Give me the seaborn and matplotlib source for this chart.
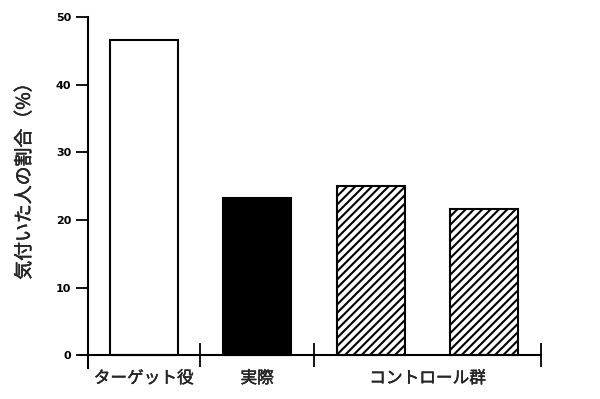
import matplotlib
matplotlib.use("Agg")
import matplotlib.pyplot as plt
import matplotlib.patheffects as pe
import seaborn as sns
import pandas as pd

# Data
bar_ids = ["target", "actual", "control_a", "control_b"]
values = [46.6, 23.3, 25.0, 21.6]
fills = ["white", "black", "white", "white"]
hatches = ["", "", "////", "////"]
group_labels = ["ターゲット役", "実際", "コントロール群"]
group_label_pos = [0, 1, 2.5]
group_dividers = [0.5, 1.5, 2.5, 3.5]
y_ticks = [0, 10, 20, 30, 40, 50]
y_label = "気付いた人の割合（%）"

sns.set_style("white")
plt.rcParams["font.family"] = ["Noto Sans CJK JP", "DejaVu Sans"]
plt.rcParams["hatch.linewidth"] = 1.5

fig = plt.figure(figsize=(6.0, 3.99), dpi=100)
ax = fig.add_axes([80 / 600, (399 - 368) / 399, (541 - 80) / 600, (368 - 17) / 399])

df = pd.DataFrame({"bar": bar_ids, "value": values})
sns.barplot(data=df, x="bar", y="value", hue="bar", palette=dict(zip(bar_ids, fills)),
            width=0.6, edgecolor="black", linewidth=1.5, legend=False, ax=ax, saturation=1)
for p, h in zip(ax.patches, hatches):
    p.set_hatch(h)

ax.set_xlim(-0.56, 3.5)
ax.set_ylim(-1.85, 50)
for s in ["top", "right"]:
    ax.spines[s].set_visible(False)
ax.spines["left"].set_position(("data", -0.49))
ax.spines["bottom"].set_position(("data", 0))
for s in ["left", "bottom"]:
    ax.spines[s].set_linewidth(1.5)
    ax.spines[s].set_color("black")
ax.spines["left"].set_bounds(-1.85, 50)

ax.set_yticks(y_ticks)
ax.set_yticklabels([str(t) for t in y_ticks], fontsize=8, fontweight="bold", family="DejaVu Sans")
ax.tick_params(axis="y", direction="out", length=8.6, width=1.3, pad=3.5, left=True, colors="black")

stroke = [pe.withStroke(linewidth=0.3, foreground="black")]
ax.set_xticks(group_label_pos)
ax.set_xticklabels(group_labels, fontsize=12)
for t in ax.get_xticklabels():
    t.set_path_effects(stroke)
ax.tick_params(axis="x", which="major", length=0, pad=10.5)
ax.set_xticks(group_dividers, minor=True)
ax.tick_params(axis="x", which="minor", direction="inout", length=17, width=1.3, bottom=True, colors="black")

ax.set_xlabel("")
ax.set_ylabel(y_label, fontsize=13.6, path_effects=stroke)
ax.yaxis.set_label_coords(-0.098, 0.545)

fig.savefig("out.png", dpi=100)
